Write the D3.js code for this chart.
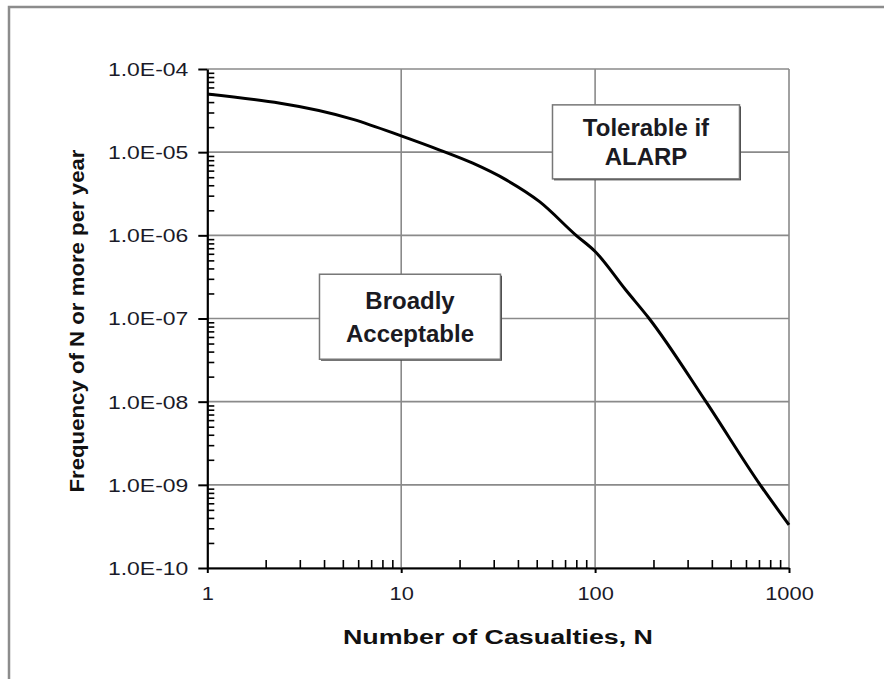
<!DOCTYPE html>
<html>
<head>
<meta charset="utf-8">
<script src="https://cdn.jsdelivr.net/npm/d3@7"></script>
<style>
  html, body { margin: 0; padding: 0; background: #fff; }
  svg { display: block; font-family: "Liberation Sans", Arial, sans-serif; }
</style>
</head>
<body>
<svg id="chart" width="884" height="679"></svg>
<script>
// F-N curve: cumulative frequency of N or more casualties per year
const casualties = [1, 5.65, 10, 15.8, 23.4, 34.8, 51.7, 79.8, 100, 144, 190, 373, 710, 1000];
const frequency  = [5.0e-5, 2.48e-5, 1.57e-5, 1.06e-5, 7.36e-6, 4.64e-6, 2.54e-6, 1.0e-6, 6.4e-7, 2.2e-7, 1.0e-7, 1.0e-8, 1.0e-9, 3.3e-10];

const xTickValues = [1, 10, 100, 1000];
const xTickLabels = ["1", "10", "100", "1000"];
const yTickValues = [1e-4, 1e-5, 1e-6, 1e-7, 1e-8, 1e-9, 1e-10];
const yTickLabels = ["1.0E-04", "1.0E-05", "1.0E-06", "1.0E-07", "1.0E-08", "1.0E-09", "1.0E-10"];

// region labels, anchored at (N, frequency) box centres
const regionLabels = [
  { lines: ["Tolerable if", "ALARP"], n: 183, f: 1.33e-5 },
  { lines: ["Broadly", "Acceptable"], n: 11.1, f: 1.05e-7 }
];

const svg = d3.select("#chart");

// outer frame
svg.append("rect")
  .attr("x", 9).attr("y", 7).attr("width", 900).attr("height", 700)
  .attr("fill", "none").attr("stroke", "#8c8c8c").attr("stroke-width", 2.5);

const x = d3.scaleLog().domain([1, 1000]).range([207.3, 789]);
const y = d3.scaleLog().domain([1e-10, 1e-4]).range([568, 69]);

const plotLeft = x.range()[0], plotRight = x.range()[1];
const plotTop = y.range()[1], plotBottom = y.range()[0];

// stretch text horizontally to the given factor
function stretch(sel, factor) {
  sel.each(function () {
    const w = this.getComputedTextLength();
    d3.select(this).attr("textLength", w * factor).attr("lengthAdjust", "spacingAndGlyphs");
  });
}

// gridlines
const grid = svg.append("g").attr("stroke", "#8a8a8a").attr("stroke-width", 1.6);
grid.selectAll("line.h").data(yTickValues).join("line").attr("class", "h")
  .attr("x1", plotLeft).attr("x2", plotRight)
  .attr("y1", d => y(d)).attr("y2", d => y(d));
grid.selectAll("line.v").data(xTickValues.slice(1)).join("line").attr("class", "v")
  .attr("x1", d => x(d)).attr("x2", d => x(d))
  .attr("y1", plotTop).attr("y2", plotBottom);

// minor ticks (2..9 within each decade), drawn inside the plot
const xMinor = [];
for (let p = 0; p < 3; p++) for (let k = 2; k <= 9; k++) xMinor.push(k * Math.pow(10, p));
const yMinor = [];
for (let p = -10; p < -4; p++) for (let k = 2; k <= 9; k++) yMinor.push(k * Math.pow(10, p));

svg.append("g").attr("transform", `translate(0,${plotBottom})`)
  .call(d3.axisTop(x).tickValues(xMinor).tickSize(8).tickFormat(""))
  .call(g => g.select(".domain").remove())
  .selectAll("line").attr("stroke", "#000").attr("stroke-width", 1.6);

svg.append("g").attr("transform", `translate(${plotLeft},0)`)
  .call(d3.axisRight(y).tickValues(yMinor).tickSize(7).tickFormat(""))
  .call(g => g.select(".domain").remove())
  .selectAll("line").attr("stroke", "#000").attr("stroke-width", 1.6);

// major axes
const xAxis = svg.append("g").attr("transform", `translate(0,${plotBottom})`)
  .call(d3.axisBottom(x).tickValues(xTickValues).tickSize(5).tickSizeOuter(0).tickPadding(20)
    .tickFormat((d, i) => xTickLabels[i]));
xAxis.select(".domain").attr("stroke", "#000").attr("stroke-width", 2.2);
xAxis.selectAll(".tick line").attr("stroke", "#000").attr("stroke-width", 2);
xAxis.selectAll(".tick text")
  .attr("font-size", 18.5).attr("fill", "#1a1a28").attr("dy", "0.72em")
  .attr("y", 18.5)
  .call(stretch, 1.18);

const yAxis = svg.append("g").attr("transform", `translate(${plotLeft},0)`)
  .call(d3.axisLeft(y).tickValues(yTickValues).tickSize(9).tickSizeOuter(0).tickPadding(10)
    .tickFormat((d, i) => yTickLabels[i]));
yAxis.select(".domain").attr("stroke", "#000").attr("stroke-width", 2.2);
yAxis.selectAll(".tick line").attr("stroke", "#000").attr("stroke-width", 2);
yAxis.selectAll(".tick text")
  .attr("font-size", 18.5).attr("fill", "#1a1a28").attr("dy", "0.35em")
  .call(stretch, 1.24);

// axis titles
svg.append("text")
  .attr("x", (343 + 653) / 2).attr("y", 644)
  .attr("text-anchor", "middle").attr("font-size", 20).attr("font-weight", "bold").attr("fill", "#111")
  .text("Number of Casualties, N")
  .attr("textLength", 310).attr("lengthAdjust", "spacingAndGlyphs");

svg.append("text")
  .attr("transform", "translate(84,321) rotate(-90)")
  .attr("text-anchor", "middle").attr("font-size", 20).attr("font-weight", "bold").attr("fill", "#111")
  .text("Frequency of N or more per year")
  .attr("textLength", 343).attr("lengthAdjust", "spacingAndGlyphs");

// region label boxes
const boxW = [187, 181], boxH = [74, 85];
const boxes = svg.append("g").selectAll("g").data(regionLabels).join("g")
  .attr("transform", d => `translate(${x(d.n)},${y(d.f)})`);
boxes.append("rect")
  .attr("x", (d, i) => -boxW[i] / 2 + 1.5).attr("y", (d, i) => -boxH[i] / 2 + 1.5)
  .attr("width", (d, i) => boxW[i]).attr("height", (d, i) => boxH[i])
  .attr("fill", "#444");
boxes.append("rect")
  .attr("x", (d, i) => -boxW[i] / 2).attr("y", (d, i) => -boxH[i] / 2)
  .attr("width", (d, i) => boxW[i]).attr("height", (d, i) => boxH[i])
  .attr("fill", "#fff").attr("stroke", "#777").attr("stroke-width", 1.5);
boxes.each(function (d, i) {
  const lh = i === 0 ? 29 : 33;
  const t = d3.select(this).append("text")
    .attr("text-anchor", "middle").attr("font-size", 24).attr("font-weight", "bold").attr("fill", "#1a1a22");
  d.lines.forEach((s, j) => {
    t.append("tspan").attr("x", 0)
      .attr("y", (j - (d.lines.length - 1) / 2) * lh + 8.5)
      .text(s);
  });
});

// F-N curve
const pts = casualties.map((n, i) => [n, frequency[i]]);
svg.append("path")
  .datum(pts)
  .attr("fill", "none").attr("stroke", "#000").attr("stroke-width", 3)
  .attr("stroke-linejoin", "round")
  .attr("d", d3.line().x(d => x(d[0])).y(d => y(d[1])).curve(d3.curveMonotoneX));
</script>
</body>
</html>
